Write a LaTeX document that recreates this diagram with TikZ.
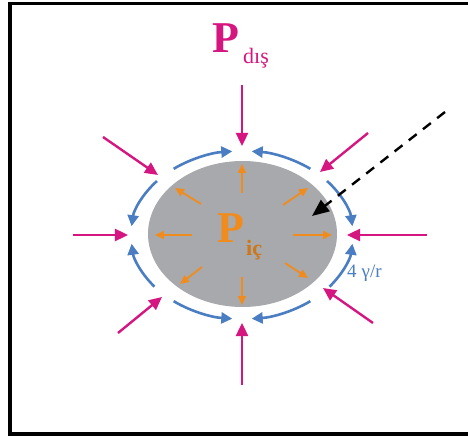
\documentclass[tikz,border=0pt]{standalone}
\usepackage{fontspec}
\setmainfont{Liberation Serif}
\usepackage{xcolor}
\usetikzlibrary{arrows.meta, calc}
\definecolor{pushmagenta}{RGB}{214,22,128}
\definecolor{tensionblue}{RGB}{74,125,194}
\definecolor{innerorange}{RGB}{240,140,30}
\definecolor{bubblegray}{RGB}{168,169,172}

\begin{document}
\begin{tikzpicture}[
    x=1pt, y=1pt,
    outpush/.style={draw=pushmagenta, line width=2.4pt, -{Triangle[length=13pt,width=12pt]}},
    inpush/.style={draw=innerorange, line width=1.8pt, -{Triangle[length=9pt,width=8pt]}},
    tensionarc/.style={draw=tensionblue, line width=2.6pt, -{Triangle[length=11pt,width=11pt]}},
    pointerline/.style={draw=black, line width=2.4pt, dash pattern=on 10pt off 8pt, -{Triangle[length=17pt,width=14pt]}}
]
\useasboundingbox (-242,235) rectangle (226,-201);
\draw[line width=3.8pt] (226,231.5) -- (-232,231.5) -- (-232,-199) -- (226,-199);

\coordinate (c) at (0,0);
\fill[bubblegray] (0.5,1) ellipse[x radius=94.5pt, y radius=73pt];

% outside pressure
\foreach \ax/\ay/\bx/\by in {0/150/0/89, 0/-150/0/-88, -169/0/-114/0, 185/0/105/0,
    -139/98/-84/60, 126/102/78/63, -124/-98/-80/-62, 131/-88/81/-53}
  \draw[outpush] (\ax,\ay) -- (\bx,\by);

% inside pressure
\foreach \ax/\ay/\bx/\by in {0/42/0/71, 0/-42/0/-70, -50/0/-87/0, 51/0/90/0,
    -41/31/-67/47, 41/30/66/47, -40/-32/-62/-49, 43/-28/66/-43}
  \draw[inpush] (\ax,\ay) -- (\bx,\by);

% surface tension
\foreach \s/\e in {52/85, 128/95, 40/6, 140/174, -38/-6, -142/-174, -52/-85, -128/-95}
  \draw[tensionarc] ($(c)+(\s:111pt and 84pt)$) arc[start angle=\s, end angle=\e, x radius=111pt, y radius=84pt];

\node[text=innerorange, font=\fontsize{44}{44}\selectfont\bfseries, anchor=base] (pin) at (-11,-8) {P};
\node[text=innerorange!85!black, font=\fontsize{22}{22}\selectfont\bfseries, anchor=base west, inner sep=0pt] (pinsub) at (4,-20) {iç};

\node[text=pushmagenta, font=\fontsize{44}{44}\selectfont\bfseries, anchor=base] (pout) at (-16,182) {P};
\node[text=pushmagenta, font=\fontsize{22}{22}\selectfont, anchor=base west, inner sep=0pt] (poutsub) at (1,171) {dış};

\node[text=tensionblue, font=\fontsize{19}{19}\selectfont, anchor=base west, inner sep=0pt] (gamma) at (105,-42) {4\hspace{5pt}γ/r};

\coordinate (far) at (203,123);
\coordinate (tip) at (70,19);
\draw[pointerline] (far) -- (tip);
\end{tikzpicture}
\end{document}
